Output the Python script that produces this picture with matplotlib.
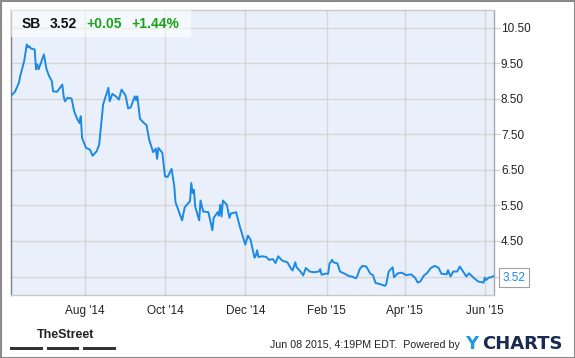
import matplotlib
matplotlib.use("Agg")
import matplotlib.pyplot as plt
from matplotlib.patches import Rectangle
import pandas as pd

# ---------------- data ----------------
ticker = "SB"
last_price = "3.52"
change_abs = "+0.05"
change_pct = "+1.44%"

dates = ["2014-06-06","2014-06-09","2014-06-12","2014-06-13","2014-06-16","2014-06-18","2014-06-19","2014-06-20","2014-06-21","2014-06-24",
         "2014-06-25","2014-06-26","2014-06-27","2014-07-01","2014-07-03","2014-07-05","2014-07-07","2014-07-08","2014-07-11","2014-07-15",
         "2014-07-16","2014-07-17","2014-07-19","2014-07-22","2014-07-24","2014-07-26","2014-07-28","2014-07-29","2014-07-30","2014-08-02",
         "2014-08-05","2014-08-07","2014-08-10","2014-08-12","2014-08-15","2014-08-19","2014-08-20","2014-08-22","2014-08-25","2014-08-27",
         "2014-08-29","2014-09-01","2014-09-03","2014-09-05","2014-09-08","2014-09-09","2014-09-10","2014-09-12","2014-09-15","2014-09-17",
         "2014-09-19","2014-09-22","2014-09-24","2014-09-25","2014-09-26","2014-09-29","2014-10-01","2014-10-03","2014-10-06","2014-10-08",
         "2014-10-09","2014-10-14","2014-10-16","2014-10-20","2014-10-21","2014-10-22","2014-10-23","2014-10-24","2014-10-27","2014-10-28",
         "2014-10-30","2014-11-03","2014-11-06","2014-11-07","2014-11-10","2014-11-11","2014-11-12","2014-11-13","2014-11-14","2014-11-17",
         "2014-11-19","2014-11-20","2014-11-24","2014-11-27","2014-12-01","2014-12-03","2014-12-05","2014-12-08","2014-12-09","2014-12-10",
         "2014-12-11","2014-12-14","2014-12-17","2014-12-19","2014-12-22","2014-12-24","2014-12-26","2014-12-29","2015-01-02","2015-01-05",
         "2015-01-06","2015-01-08","2015-01-09","2015-01-12","2015-01-14","2015-01-16","2015-01-19","2015-01-22","2015-01-26","2015-01-27",
         "2015-01-28","2015-01-31","2015-02-02","2015-02-03","2015-02-05","2015-02-06","2015-02-09","2015-02-11","2015-02-15","2015-02-18",
         "2015-02-20","2015-02-23","2015-02-24","2015-02-26","2015-02-28","2015-03-03","2015-03-06","2015-03-08","2015-03-10","2015-03-13",
         "2015-03-17","2015-03-18","2015-03-20","2015-03-23","2015-03-24","2015-03-27","2015-03-30","2015-04-02","2015-04-06","2015-04-09",
         "2015-04-11","2015-04-13","2015-04-16","2015-04-18","2015-04-21","2015-04-24","2015-04-27","2015-04-29","2015-05-03","2015-05-04",
         "2015-05-06","2015-05-08","2015-05-11","2015-05-13","2015-05-15","2015-05-18","2015-05-20","2015-05-24","2015-05-27","2015-05-31",
         "2015-06-01","2015-06-02","2015-06-04","2015-06-06","2015-06-08"]

prices = [8.59, 8.70, 8.95, 9.14, 9.56, 10.03, 9.95, 9.98, 9.92, 9.89,
          9.33, 9.47, 9.33, 9.75, 9.33, 9.14, 9.00, 8.71, 8.70, 8.90,
          8.57, 8.43, 8.53, 8.51, 8.15, 7.96, 7.82, 8.01, 7.40, 7.12,
          7.07, 6.90, 7.02, 7.21, 8.34, 8.81, 8.43, 8.64, 8.56, 8.48,
          8.76, 8.60, 8.23, 8.26, 8.57, 8.46, 8.57, 7.94, 7.82, 7.76,
          7.35, 7.00, 7.10, 6.81, 7.12, 6.98, 6.32, 6.30, 6.53, 6.06,
          5.59, 5.08, 5.45, 5.62, 6.13, 5.85, 5.94, 5.46, 5.08, 5.64,
          5.33, 5.31, 4.80, 5.15, 5.31, 5.21, 5.52, 5.19, 5.64, 5.52,
          5.15, 5.27, 5.31, 4.89, 4.40, 4.65, 4.54, 4.03, 4.09, 4.24,
          4.05, 4.07, 4.05, 3.97, 3.99, 3.88, 4.07, 3.95, 3.90, 3.71,
          3.67, 3.90, 3.76, 3.64, 3.53, 3.74, 3.64, 3.62, 3.64, 3.71,
          3.55, 3.58, 3.58, 3.86, 3.97, 3.90, 3.87, 3.64, 3.57, 3.51,
          3.50, 3.45, 3.50, 3.71, 3.80, 3.78, 3.58, 3.54, 3.32, 3.29,
          3.24, 3.27, 3.64, 3.76, 3.48, 3.59, 3.61, 3.54, 3.56, 3.47,
          3.33, 3.36, 3.54, 3.59, 3.74, 3.80, 3.74, 3.58, 3.56, 3.68,
          3.50, 3.64, 3.64, 3.78, 3.67, 3.50, 3.59, 3.45, 3.36, 3.33,
          3.47, 3.40, 3.47, 3.48, 3.52]

y_ticks = [3.5, 4.5, 5.5, 6.5, 7.5, 8.5, 9.5, 10.5]
y_tick_labels = ["", "4.50", "5.50", "6.50", "7.50", "8.50", "9.50", "10.50"]
x_tick_dates = ["2014-08-01", "2014-10-01", "2014-12-01", "2015-02-01", "2015-04-01", "2015-06-01"]
x_tick_labels = ["Aug '14", "Oct '14", "Dec '14", "Feb '15", "Apr '15", "Jun '15"]
footer_text = "Jun 08 2015, 4:19PM EDT.  Powered by"

# ---------------- style ----------------
LINE = "#1a8ae6"
BG = "#eaf0fb"
GRID = "#d6d6d6"
plt.rcParams['font.family'] = ['Liberation Sans', 'DejaVu Sans']

x = pd.to_datetime(dates)

fig = plt.figure(figsize=(5.75, 3.58), dpi=100)
fig.patch.set_facecolor("white")
ax = fig.add_axes([11/575, 1 - 295/358, 483/575, 285/358])
ax.set_facecolor(BG)

ax.plot(x, prices, color=LINE, lw=1.4, solid_joinstyle="round", zorder=3)

ax.set_xlim(pd.Timestamp("2014-06-06"), pd.Timestamp("2015-06-08"))
ax.set_ylim(2.98, 11.0)

ax.set_xticks(pd.to_datetime(x_tick_dates))
ax.set_xticklabels(x_tick_labels)
ax.tick_params(axis="x", length=0, pad=7, labelsize=8.5, labelcolor="#222222")
ax.yaxis.tick_right()
ax.set_yticks(y_ticks)
ax.set_yticklabels(y_tick_labels)
ax.tick_params(axis="y", length=4, width=1, color=GRID, pad=1, labelsize=8.5, labelcolor="#222222")
ax.grid(True, color=GRID, lw=1, zorder=0)
ax.set_axisbelow(True)

for side, col in [("left", "#808080"), ("right", "#a8a8a8"), ("top", "#c8c8c8"), ("bottom", "#c8c8c8")]:
    ax.spines[side].set_color(col)
    ax.spines[side].set_linewidth(1)

# header box
ax.add_patch(Rectangle((0, 1 - 27/285), 180/483, 27/285, transform=ax.transAxes,
                       facecolor="white", alpha=0.55, edgecolor="none", zorder=4))
hy = 1 - 13.5/285
ax.text(11/483, hy, ticker, transform=ax.transAxes, fontsize=10, fontweight="bold",
        color="#111111", va="center", ha="left", zorder=5)
ax.text(39/483, hy, last_price, transform=ax.transAxes, fontsize=10, fontweight="bold",
        color="#111111", va="center", ha="left", zorder=5)
ax.text(75/483, hy, change_abs, transform=ax.transAxes, fontsize=10, fontweight="bold",
        color="#1aa31a", va="center", ha="left", zorder=5)
ax.text(120/483, hy, change_pct, transform=ax.transAxes, fontsize=10, fontweight="bold",
        color="#1aa31a", va="center", ha="left", zorder=5)

# last price callout
ax.annotate(last_price, xy=(x[-1], prices[-1]), xytext=(6.5, -1.5), textcoords="offset points",
            ha="left", va="center", fontsize=8.5, color=LINE, annotation_clip=False,
            bbox=dict(boxstyle="square,pad=0.3", facecolor="white", edgecolor="#a0a0a0", lw=0.8),
            zorder=6)

# footer
fig.text(37/575, 1 - 335/358, "TheStreet", fontsize=9, fontweight="bold",
         color="#222222", va="center", ha="left")
for x0, w in [(10, 33), (47, 32), (83, 33)]:
    fig.patches.append(Rectangle((x0/575, 1 - 350/358), w/575, 3/358, transform=fig.transFigure,
                                 facecolor="#333333", edgecolor="none"))
fig.text(460/575, 1 - 345/358, footer_text, fontsize=7.7, color="#222222", va="center", ha="right")
fig.text(465/575, 1 - 344/358, "Y", fontsize=13, fontweight="bold", family="DejaVu Sans",
         color="#1e9be6", va="center", ha="left")
fig.text(482/575, 1 - 344/358, "CHARTS", fontsize=13, fontweight="bold", family="DejaVu Sans",
         color="#1a2a52", va="center", ha="left")

# outer border
fig.patches.append(Rectangle((0.5/575, 0.5/358), 574/575, 357/358, transform=fig.transFigure,
                             facecolor="none", edgecolor="#8a8a8a", lw=1.5))

fig.savefig("out.png", dpi=100)
